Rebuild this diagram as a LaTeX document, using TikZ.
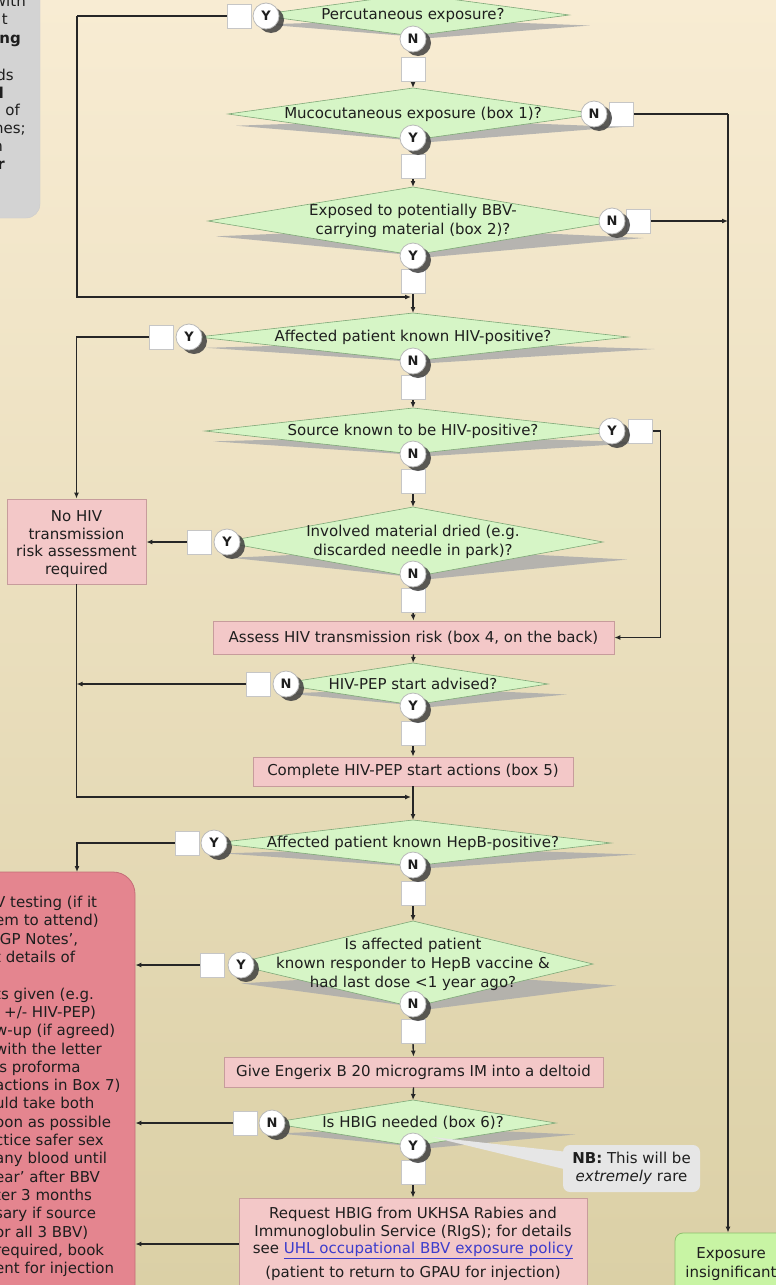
\documentclass[tikz,border=0pt]{standalone}
\usepackage{fontspec}
\setmainfont{DejaVu Sans}
\usetikzlibrary{shapes.geometric,shadows,calc,arrows.meta}
\pgfdeclarelayer{front}
\pgfsetlayers{main,front}
\definecolor{bgtop}{HTML}{F8ECD3}
\definecolor{bgbot}{HTML}{DBD0A6}
\definecolor{diafill}{HTML}{D6F5C6}
\definecolor{diaedge}{HTML}{7FA878}
\definecolor{actfill}{HTML}{F3C8C8}
\definecolor{actedge}{HTML}{C79C9C}
\definecolor{bigfill}{HTML}{E4858F}
\definecolor{bigedge}{HTML}{C46E78}
\definecolor{grnfill}{HTML}{C8F4A4}
\definecolor{grnedge}{HTML}{8CC06C}
\definecolor{greybox}{HTML}{D3D3D3}
\definecolor{nbfill}{HTML}{E6E6E6}
\definecolor{txtcol}{HTML}{1E1E1E}
\definecolor{linkcol}{HTML}{3C3CCC}
\newcommand\mkdec[6]{%
  \fill[dshadow] ({#2-#4+8},{#3+0.45*#5}) -- ({#2+10},{#3+0.2*#5}) -- ({#2+1.1*#4+5},{#3+0.5*#5}) -- ({#2+18},{#3+#5+2}) -- cycle;
  \node[dia,minimum width={2*#4},minimum height={2*#5}] (#1) at (#2,#3) {};
  \node[dtxt] (#1t) at (#2,#3) {#6};
}
\begin{document}
\begin{tikzpicture}[x=1pt,y=-1pt,
  every node/.style={font=\fontsize{15}{19}\selectfont, text=txtcol},
  dia/.style={diamond, draw=diaedge, fill=diafill, line width=0.6pt, inner sep=0pt, outer sep=0pt},
  dtxt/.style={align=center, inner sep=0pt},
  yn/.style={circle, draw=gray!55, fill=white, line width=0.8pt, minimum size=26pt, inner sep=0pt, font=\fontsize{13}{13}\selectfont\bfseries, drop shadow={shadow xshift=5pt, shadow yshift=-4pt, fill=black!75, opacity=0.85}},
  sq/.style={rectangle, draw=gray!45, fill=white, line width=0.8pt, minimum size=24pt, inner sep=0pt},
  act/.style={rectangle, draw=actedge, fill=actfill, line width=0.8pt, inner sep=0pt, align=center},
  arr/.style={draw=black!85, line width=1.4pt, -{Latex[length=6pt,width=5pt]}},
  ln/.style={draw=black!85, line width=1.4pt},
  dshadow/.style={fill=gray!65, opacity=0.85},
]
\useasboundingbox (0,0) rectangle (776,1285);
\clip (0,0) rectangle (776,1285);
\shade[top color=bgtop, bottom color=bgbot] (0,0) rectangle (776,1285);

% top-left grey note (cut off)
\node[rectangle, rounded corners=14pt, fill=greybox, draw=gray!40, minimum width=160pt, minimum height=260pt, inner sep=0pt] (note) at (-40,88) {};
\node[anchor=base east, inner sep=0pt] (n1) at (26,6) {with};
\node[anchor=base east, inner sep=0pt] (n2) at (8,24) {t};
\node[anchor=base east, inner sep=0pt, font=\fontsize{15}{18}\selectfont\bfseries] (n3) at (21,43) {ng};
\node[anchor=base east, inner sep=0pt] (n4) at (14,80) {ds};
\node[anchor=base east, inner sep=0pt, font=\fontsize{15}{18}\selectfont\bfseries] (n5) at (4,98) {d};
\node[anchor=base east, inner sep=0pt] (n6) at (20,115) {of};
\node[anchor=base east, inner sep=0pt] (n7) at (26,133) {nes;};
\node[anchor=base east, inner sep=0pt] (n8) at (3,151) {n};
\node[anchor=base east, inner sep=0pt, font=\fontsize{15}{18}\selectfont\bfseries] (n9) at (5,169) {r};

% decisions
\mkdec{d1}{413}{15}{156}{21}{Percutaneous exposure?}
\mkdec{d2}{413}{114}{185}{26}{Mucocutaneous exposure (box 1)?}
\mkdec{d3}{413}{221}{205}{34}{Exposed to potentially BBV-\\carrying material (box 2)?}
\mkdec{d4}{413}{337}{215}{24}{Affected patient known HIV-positive?}
\mkdec{d5}{413}{431}{208}{23}{Source known to be HIV-positive?}
\mkdec{d6}{413}{542}{190}{35}{Involved material dried (e.g.\\discarded needle in park)?}
\mkdec{d7}{413}{684}{135}{21}{HIV-PEP start advised?}
\mkdec{d8}{413}{843}{198}{23}{Affected patient known HepB-positive?}
\mkdec{d9}{413}{964}{180}{43}{Is affected patient\\known responder to HepB vaccine \&\\had last dose <1 year ago?}
\mkdec{d10}{413}{1123}{143}{23}{Is HBIG needed (box 6)?}

% action boxes
\node[act, minimum width=401pt, minimum height=33pt] (assess) at (413.5,637.5) {Assess HIV transmission risk (box 4, on the back)};
\node[act, minimum width=320pt, minimum height=29pt] (complete) at (413,771.5) {Complete HIV-PEP start actions (box 5)};
\node[act, minimum width=379pt, minimum height=30pt] (engerix) at (413.5,1072) {Give Engerix B 20 micrograms IM into a deltoid};
\node[act, minimum width=348pt, minimum height=92pt] (req) at (413,1244) {};
\node[anchor=north, align=center, inner sep=0pt, font=\fontsize{15}{17.5}\selectfont] (reqt) at (413,1207) {Request HBIG from UKHSA Rabies and\\Immunoglobulin Service (RIgS); for details\\see \textcolor{linkcol}{\underline{UHL occupational BBV exposure policy}}\\[6pt](patient to return to GPAU for injection)};
\node[act, minimum width=139pt, minimum height=85pt] (nohiv) at (76.5,541.5) {};
\node[align=center, inner sep=0pt, font=\fontsize{15}{17.7}\selectfont] (nohivt) at (76.5,544) {No HIV\\transmission\\risk assessment\\required};
\node[rectangle, rounded corners=22pt, fill=bigfill, draw=bigedge, line width=0.8pt, minimum width=255pt, minimum height=456pt, inner sep=0pt] (big) at (7.5,1100) {};
\node[anchor=north west, align=left, inner sep=0pt, font=\fontsize{15}{18.3}\selectfont] (bigt) at (-5,896) {V testing (if it\\em to attend)\\‘GP Notes’,\\t details of\\\mbox{}\\ts given (e.g.\\\hspace*{9pt}+/- HIV-PEP)\\w-up (if agreed)\\with the letter\\is proforma\\actions in Box 7)\\uld take both\\oon as possible\\ctice safer sex\\any blood until\\ear’ after BBV\\ter 3 months\\sary if source\\or all 3 BBV)\\required, book\\ent for injection};
\node[rectangle, rounded corners=8pt, fill=grnfill, draw=grnedge, line width=0.8pt, minimum width=112pt, minimum height=62pt, inner sep=0pt, align=center, font=\fontsize{15}{18.5}\selectfont] (ex) at (731,1264) {Exposure\\insignificant};

% NB callout
\fill[nbfill] (432,1137) -- (568,1152) -- (568,1170) -- cycle;
\node[rectangle, rounded corners=7pt, fill=nbfill, minimum width=137pt, minimum height=47pt, inner sep=0pt, align=center, font=\fontsize{15}{18}\selectfont] (nb) at (631.5,1168.5) {\textbf{NB:} This will be\\\textit{extremely} rare};

\begin{pgfonlayer}{front}
% squares
\node[sq] (d1ys) at (239,16) {};
\node[sq] (d1nb) at (413,69) {};
\node[sq] (d2ns) at (621,114) {};
\node[sq] (d2yb) at (413,166) {};
\node[sq] (d3ns) at (638,221) {};
\node[sq] (d3yb) at (413,281) {};
\node[sq] (d4ys) at (161,337) {};
\node[sq] (d4nb) at (413,387) {};
\node[sq] (d5ys) at (640,431) {};
\node[sq] (d5nb) at (413,481) {};
\node[sq] (d6ys) at (199,542) {};
\node[sq] (d6nb) at (413,600) {};
\node[sq] (d7ns) at (258,684) {};
\node[sq] (d7yb) at (413,733) {};
\node[sq] (d8ys) at (187,843) {};
\node[sq] (d8nb) at (413,893) {};
\node[sq] (d9ys) at (212,965) {};
\node[sq] (d9nb) at (413,1031) {};
\node[sq] (d10ns) at (245,1123) {};
\node[sq] (d10yb) at (413,1172) {};
% Y/N circles
\node[yn] (d1y) at (266,16) {Y};
\node[yn] (d1n) at (413,39) {N};
\node[yn] (d2n) at (594,114) {N};
\node[yn] (d2y) at (413,138) {Y};
\node[yn] (d3n) at (612,221) {N};
\node[yn] (d3y) at (413,256) {Y};
\node[yn] (d4y) at (189,337) {Y};
\node[yn] (d4n) at (413,361) {N};
\node[yn] (d5y) at (612,431) {Y};
\node[yn] (d5n) at (413,454) {N};
\node[yn] (d6y) at (227,542) {Y};
\node[yn] (d6n) at (413,574) {N};
\node[yn] (d7n) at (286,684) {N};
\node[yn] (d7y) at (413,706) {Y};
\node[yn] (d8y) at (214,843) {Y};
\node[yn] (d8n) at (413,865) {N};
\node[yn] (d9y) at (241,965) {Y};
\node[yn] (d9n) at (413,1004) {N};
\node[yn] (d10n) at (272,1123) {N};
\node[yn] (d10y) at (413,1146) {Y};
\end{pgfonlayer}

% coordinates
\coordinate (lv) at (77,16);
\coordinate (j1) at (411,297);
\coordinate (j2) at (411,797);
\coordinate (rv) at (728,114);
\coordinate (bt) at (77,872);

% connectors
\draw[ln] (d1ys.west) -- (lv);
\draw[arr] (lv) |- (j1);
\draw[arr] (d1nb.south) -- (d2.north);
\draw[ln] (d2ns.east) -- (rv);
\draw[arr] (rv) -- (rv |- ex.north);
\draw[arr] (d2yb.south) -- (d3.north);
\draw[arr] (d3ns.east) -- (d3ns.east -| rv);
\draw[arr] (d3yb.south) -- (d4.north);
\draw[arr] (d4ys.west) -| (nohiv.north);
\draw[arr] (d4nb.south) -- (d5.north);
\draw[arr] (d5ys.east) -- ++(8,0) |- (assess.east);
\draw[arr] (d5nb.south) -- (d6.north);
\draw[arr] (d6ys.west) -- (nohiv.east |- d6ys.west);
\draw[arr] (d6nb.south) -- (assess.north);
\draw[arr] (assess.south) -- (d7.north);
\draw[arr] (d7ns.west) -- (d7ns.west -| nohiv.south);
\draw[arr] (d7yb.south) -- (complete.north);
\draw[arr] (nohiv.south) |- (j2);
\draw[arr] (complete.south) -- (d8.north);
\draw[arr] (d8ys.west) -| (bt);
\draw[arr] (d8nb.south) -- (d9.north);
\draw[arr] (d9ys.west) -- (big.east |- d9ys.west);
\draw[arr] (d9nb.south) -- (engerix.north);
\draw[arr] (engerix.south) -- (d10.north);
\draw[arr] (d10ns.west) -- (big.east |- d10ns.west);
\draw[arr] (d10yb.south) -- (req.north);
\draw[arr] (req.west) -- (big.east |- req.west);
\end{tikzpicture}
\end{document}
